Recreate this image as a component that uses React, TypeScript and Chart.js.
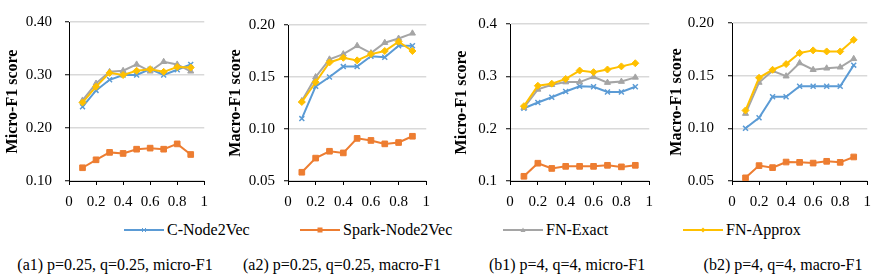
import React, { useEffect, useRef } from "react";
import { Chart, registerables } from "chart.js";

Chart.register(...registerables);

const FONT = "'Liberation Serif', 'Times New Roman', serif";

const xValues = [0.1, 0.2, 0.3, 0.4, 0.5, 0.6, 0.7, 0.8, 0.9];
const seriesNames = ["C-Node2Vec", "Spark-Node2Vec", "FN-Exact", "FN-Approx"];
const seriesColors = ["#5B9BD5", "#ED7D31", "#A5A5A5", "#FFC000"];
const seriesMarkers = ["crossRot", "rect", "triangle", "rectRot"];

// (a1) p=0.25, q=0.25, micro-F1
const a1CNode = [0.24, 0.271, 0.291, 0.3, 0.3, 0.311, 0.3, 0.31, 0.32];
const a1Spark = [0.125, 0.14, 0.154, 0.152, 0.16, 0.162, 0.16, 0.17, 0.15];
const a1Exact = [0.252, 0.284, 0.306, 0.308, 0.32, 0.307, 0.325, 0.32, 0.307];
const a1Approx = [0.248, 0.278, 0.304, 0.3, 0.308, 0.311, 0.306, 0.315, 0.314];

// (a2) p=0.25, q=0.25, macro-F1
const a2CNode = [0.11, 0.141, 0.15, 0.16, 0.16, 0.17, 0.169, 0.18, 0.18];
const a2Spark = [0.0584, 0.072, 0.0786, 0.077, 0.091, 0.089, 0.0857, 0.087, 0.093];
const a2Exact = [0.127, 0.15, 0.167, 0.172, 0.18, 0.173, 0.183, 0.187, 0.192];
const a2Approx = [0.126, 0.145, 0.164, 0.1685, 0.166, 0.172, 0.175, 0.184, 0.175];

// (b1) p=4, q=4, micro-F1
const b1CNode = [0.239, 0.25, 0.26, 0.271, 0.281, 0.28, 0.27, 0.27, 0.28];
const b1Spark = [0.109, 0.134, 0.124, 0.128, 0.128, 0.128, 0.13, 0.127, 0.13];
const b1Exact = [0.24, 0.275, 0.284, 0.289, 0.289, 0.299, 0.288, 0.29, 0.298];
const b1Approx = [0.243, 0.282, 0.286, 0.295, 0.311, 0.308, 0.313, 0.319, 0.325];

// (b2) p=4, q=4, macro-F1
const b2CNode = [0.1, 0.11, 0.13, 0.13, 0.14, 0.14, 0.14, 0.14, 0.16];
const b2Spark = [0.053, 0.0646, 0.0627, 0.068, 0.0677, 0.067, 0.0687, 0.0677, 0.0728];
const b2Exact = [0.114, 0.1435, 0.1546, 0.1495, 0.162, 0.1556, 0.157, 0.158, 0.166];
const b2Approx = [0.117, 0.148, 0.1556, 0.161, 0.1715, 0.174, 0.173, 0.173, 0.184];

const xTickLabels = ["0", "0.2", "0.4", "0.6", "0.8", "1"];
const captions = [
  "(a1) p=0.25, q=0.25, micro-F1",
  "(a2) p=0.25, q=0.25, macro-F1",
  "(b1) p=4, q=4, micro-F1",
  "(b2) p=4, q=4, macro-F1",
];
const yTitles = ["Micro-F1 score", "Macro-F1 score", "Micro-F1 score", "Macro-F1 score"];

type Panel = {
  left: number;
  axisX: number;
  right: number;
  top: number;
  ymin: number;
  ymax: number;
  step: number;
  decimals: number;
  tickPad: number;
  title: string;
  series: number[][];
};

const BOTTOM = 181;
const CANVAS_H = 215;

const panels: Panel[] = [
  { left: 0, axisX: 69, right: 206, top: 22, ymin: 0.1, ymax: 0.4, step: 0.1, decimals: 2, tickPad: 13, title: yTitles[0], series: [a1CNode, a1Spark, a1Exact, a1Approx] },
  { left: 223, axisX: 288, right: 428, top: 25, ymin: 0.05, ymax: 0.2, step: 0.05, decimals: 2, tickPad: 9, title: yTitles[1], series: [a2CNode, a2Spark, a2Exact, a2Approx] },
  { left: 449, axisX: 510, right: 651, top: 24, ymin: 0.1, ymax: 0.4, step: 0.1, decimals: 1, tickPad: 9, title: yTitles[2], series: [b1CNode, b1Spark, b1Exact, b1Approx] },
  { left: 664, axisX: 732, right: 869, top: 22, ymin: 0.05, ymax: 0.2, step: 0.05, decimals: 2, tickPad: 14, title: yTitles[3], series: [b2CNode, b2Spark, b2Exact, b2Approx] },
];

function LineChart({ p }: { p: Panel }) {
  const ref = useRef<HTMLCanvasElement | null>(null);
  const width = p.right - p.left + 10;
  useEffect(() => {
    if (!ref.current) return;
    const datasets = p.series.map((vals, i) => ({
      label: seriesNames[i],
      data: vals.map((v, j) => ({ x: xValues[j], y: v })),
      borderColor: seriesColors[i],
      backgroundColor: seriesColors[i],
      borderWidth: 2,
      pointStyle: seriesMarkers[i] as any,
      pointRadius: i === 1 ? 4 : 3.5,
      pointBorderWidth: i === 0 ? 1.5 : 1,
      pointBorderColor: seriesColors[i],
      pointBackgroundColor: seriesColors[i],
      tension: 0,
      order: 3 - i,
    }));
    const chart = new Chart(ref.current, {
      type: "line",
      data: { datasets },
      options: {
        animation: false,
        responsive: false,
        maintainAspectRatio: false,
        layout: { padding: { left: 0, right: 10, top: p.top, bottom: 0 } },
        plugins: { legend: { display: false }, tooltip: { enabled: false } },
        scales: {
          x: {
            type: "linear",
            min: 0,
            max: 1,
            afterFit: (s: any) => {
              s.height = CANVAS_H - BOTTOM;
            },
            afterBuildTicks: (s: any) => {
              s.ticks = xTickLabels.map((t) => ({ value: parseFloat(t) }));
            },
            ticks: {
              callback: (v: any) => String(Math.round(v * 10) / 10),
              color: "#000",
              font: { family: FONT, size: 15 },
              padding: 8,
              maxRotation: 0,
              autoSkip: false,
            },
            grid: { drawOnChartArea: false, tickLength: 4, color: "#000", tickColor: "#000" },
            border: { color: "#000", width: 1 },
          },
          y: {
            type: "linear",
            min: p.ymin,
            max: p.ymax,
            afterFit: (s: any) => {
              s.width = p.axisX - p.left;
            },
            ticks: {
              stepSize: p.step,
              callback: (v: any) => Number(v).toFixed(p.decimals),
              color: "#000",
              font: { family: FONT, size: 15 },
              padding: p.tickPad,
            },
            grid: { color: "#D9D9D9", lineWidth: 1.5, tickLength: 4, tickColor: "#000", tickWidth: 1 },
            border: { color: "#000", width: 1 },
            title: {
              display: true,
              text: p.title,
              color: "#000",
              font: { family: FONT, size: 16, weight: "bold" },
              padding: { top: 3, bottom: 0 },
            },
          },
        },
      },
    });
    return () => chart.destroy();
  }, []);
  return (
    <canvas
      ref={ref}
      width={width}
      height={CANVAS_H}
      style={{ position: "absolute", left: p.left, top: 0, width, height: CANVAS_H }}
    />
  );
}

function LegendMarker({ i }: { i: number }) {
  const c = seriesColors[i];
  let m: any = null;
  if (i === 0) {
    m = (
      <g stroke={c} strokeWidth={1}>
        <line x1={18} y1={3} x2={22} y2={7} />
        <line x1={22} y1={3} x2={18} y2={7} />
      </g>
    );
  } else if (i === 1) {
    m = <rect x={17.5} y={2.5} width={5} height={5} fill={c} />;
  } else if (i === 2) {
    m = <polygon points="20,2.5 22.5,7 17.5,7" fill={c} />;
  } else {
    m = <polygon points="20,2.5 22.5,5 20,7.5 17.5,5" fill={c} />;
  }
  return (
    <svg width={40} height={10} style={{ position: "absolute", left: 0, top: -5 }}>
      <line x1={0} y1={5} x2={40} y2={5} stroke={c} strokeWidth={2} />
      {m}
    </svg>
  );
}

const legendLeft = [124, 300, 503, 683];
const captionCenters = [115, 342, 567, 783];

export default function App() {
  return (
    <div style={{ position: "absolute", left: 0, top: 0, width: 885, height: 278, background: "#fff", overflow: "hidden", fontFamily: FONT }}>
      {panels.map((p, i) => (
        <LineChart key={i} p={p} />
      ))}
      {seriesNames.map((n, i) => (
        <div key={n} style={{ position: "absolute", left: legendLeft[i], top: 230, height: 0 }}>
          <LegendMarker i={i} />
          <span style={{ position: "absolute", left: 43, top: -10, fontSize: 16, lineHeight: "19px", whiteSpace: "nowrap", color: "#000" }}>{n}</span>
        </div>
      ))}
      {captions.map((c, i) => (
        <div
          key={c}
          style={{ position: "absolute", left: captionCenters[i] - 150, width: 300, top: 255, textAlign: "center", fontSize: 16, lineHeight: "19px", whiteSpace: "nowrap", color: "#000" }}
        >
          {c}
        </div>
      ))}
    </div>
  );
}
